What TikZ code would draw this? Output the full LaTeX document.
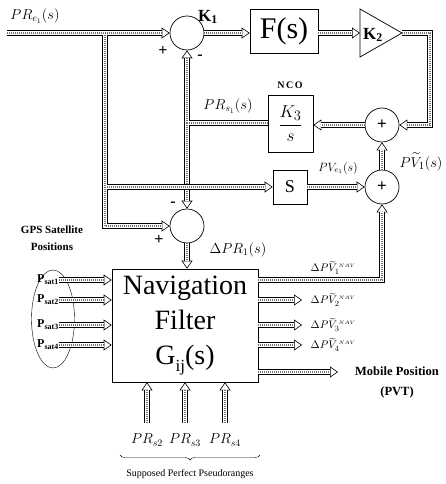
\documentclass[tikz,border=0pt]{standalone}
\usepackage{amsmath}
\usepackage{amssymb}
\usepackage{fontspec}
\setmainfont{Liberation Serif}
\usepackage{tikz}
\usetikzlibrary{arrows.meta}
\usetikzlibrary{calc}
\usetikzlibrary{shapes.geometric}
\usetikzlibrary{decorations.pathreplacing}

\newcommand{\fs}[1]{\fontsize{#1}{#1}\selectfont}

\tikzset{
  busbody/.style={line width=5.4pt, shorten >=#1,
    postaction={draw=white, line width=3.8pt, shorten >=#1},
    postaction={draw=black!55, line width=2pt, dash pattern=on 1.1pt off 0.9pt, shorten >=#1}},
  busbody/.default=0pt,
  bus/.style={busbody=8pt,
    preaction={draw, line width=0.6pt, shorten >=0pt, -{Triangle[open, length=8pt, width=11pt]}}},
  summer/.style={circle, draw, line width=0.7pt, minimum size=34pt, inner sep=0pt, font=\fs{17}\bfseries},
  block/.style={draw, line width=0.7pt, inner sep=0pt},
  sign/.style={font=\fs{16}\bfseries, inner sep=0pt},
  navout/.style={anchor=west, inner sep=0.5pt, font=\fs{11}},
}

\begin{document}
\begin{tikzpicture}[x=1pt,y=-1pt]
  \useasboundingbox (0,0) rectangle (445,484);

  % blocks
  \node[summer] (k1sum) at (187,33) {};
  \node[summer] (dsum) at (187,226) {};
  \node[summer] (usum) at (382,125) {+};
  \node[summer] (vsum) at (382,187) {+};
  \node[block, minimum width=68pt, minimum height=44pt, font=\fs{30}] (F) at (284,31) {F(s)};
  \node[block, minimum width=45pt, minimum height=57pt, font=\fs{19}] (nco) at (290.5,123.5) {$\dfrac{K_3}{s}$};
  \node[block, minimum size=34pt, font=\fs{18}] (sblk) at (290,187) {S};
  \node[block, minimum width=146pt, minimum height=113pt, align=center, font=\fontsize{28}{35}\selectfont]
    (nav) at (185,325.5) {Navigation\\Filter\\G\raisebox{-7pt}{\fs{17}ij}(s)};
  \node[ellipse, draw, thin, minimum width=43pt, minimum height=98pt] (sats) at (53,319) {};

  \coordinate (k2in) at (360,33);
  \coordinate (k2out) at (402,33);
  \draw[line width=0.7pt] (360,9) -- (k2out) -- (360,57) -- cycle;
  \node[font=\fs{17}\bfseries] (k2) at (373,35) {K\textsubscript{2}};

  % main loop
  \coordinate (pin) at (7,33);
  \coordinate (ja) at (105,34.9);
  \coordinate (jb) at (106.9,187);
  \coordinate (jn) at (187,123);
  \coordinate (kc) at (430,33);
  \draw[bus] (pin) -- (k1sum.west);
  \draw[bus] (ja) |- (dsum.west);
  \draw[bus] (jn) -- (k1sum.south);
  \draw[bus] (jn) -- (dsum.north);
  \draw[busbody] (nco.west |- jn) -- ($(jn)+(1.9,0)$);
  \draw[bus] (jb) -- (sblk.west);
  \draw[bus] (k1sum.east) -- (k1sum.east -| F.west);
  \draw[bus] (F.east |- k2in) -- (k2in);
  \draw[bus] (k2out) -- (kc) |- (usum.east);
  \draw[bus] (usum.west) -- (usum.west -| nco.east);
  \draw[bus] (vsum.north) -- (usum.south);
  \draw[bus] (sblk.east) -- (vsum.west);
  \draw[bus] (dsum.south) -- (dsum.south |- nav.north);

  % filter inputs and outputs
  \foreach \k/\y in {1/280,2/300,3/325,4/345}{
    \node[anchor=west, inner sep=0pt, font=\fs{12}\bfseries] (p\k) at (37,\y) {P\textsubscript{sat\k}};
    \draw[bus] (p\k.east) -- (p\k.east -| nav.west);
  }
  \coordinate (o1) at (258,280);
  \draw[bus] (o1) -| (vsum.south);
  \node[navout] at (310,268) {$\Delta P\widetilde{V}_{1}^{\,\scriptscriptstyle NAV}$};
  \foreach \k/\y in {2/300,3/325,4/345}{
    \coordinate (o\k) at (302,\y);
    \draw[bus] (nav.east |- o\k) -- (o\k);
    \node[navout] at (310,\y) {$\Delta P\widetilde{V}_{\k}^{\,\scriptscriptstyle NAV}$};
  }
  \coordinate (opvt) at (338,372);
  \draw[bus] (nav.east |- opvt) -- (opvt);
  \node[align=center, font=\fontsize{12.5}{20}\selectfont\bfseries] at (397,382) {Mobile Position\\(PVT)};

  \foreach \k/\x in {2/147,3/185,4/225}{
    \coordinate (in\k) at (\x,423);
    \node[font=\fs{14}] (prs\k) at (\x,440) {$PR_{s\k}$};
    \draw[bus] (in\k) -- (in\k |- nav.south);
  }
  \draw[decorate, decoration={brace, amplitude=5pt, mirror}] (120,455) -- (260,455);
  \node[font=\fs{10}] at (190,474) {Supposed Perfect Pseudoranges};

  % labels
  \node[font=\fs{14}] at (35,16) {$PR_{e_1}(s)$};
  \node[font=\fs{17}\bfseries] at (208,17) {K\textsubscript{1}};
  \node[sign] at (163,51) {+};
  \node[sign] at (200,57) {-};
  \node[sign] at (173,204) {-};
  \node[sign] at (159,240) {+};
  \node[font=\fs{10}\bfseries\addfontfeature{LetterSpace=15}] at (290,85) {NCO};
  \node[font=\fs{14}] at (228,106) {$PR_{s_1}(s)$};
  \node[font=\fs{12}] at (338,168) {$PV_{e_1}(s)$};
  \node[font=\fs{15}] at (421,162) {$P\widetilde{V}_1(s)$};
  \node[font=\fs{14}] at (238,250) {$\Delta PR_1(s)$};
  \node[align=center, font=\fontsize{11}{17}\selectfont\bfseries] at (52,238) {GPS Satellite\\Positions};
\end{tikzpicture}
\end{document}
